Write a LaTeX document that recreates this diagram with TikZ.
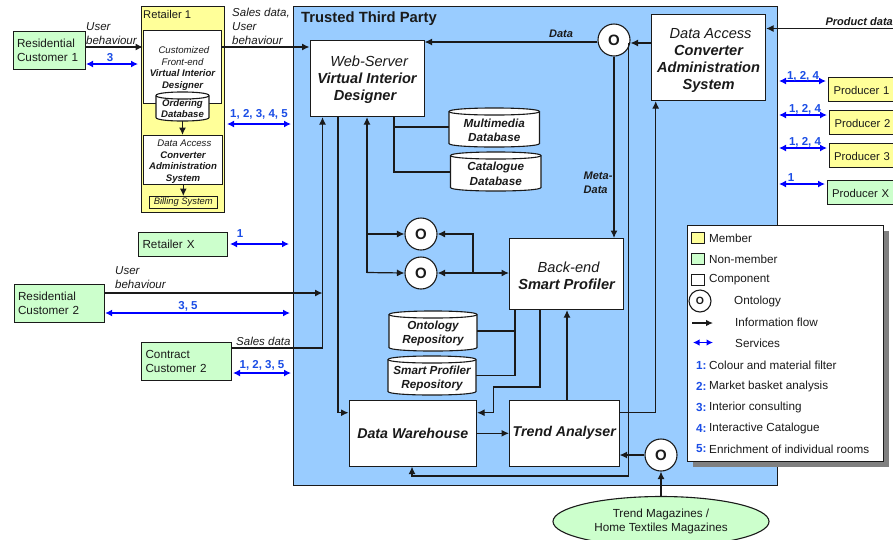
\documentclass[tikz,border=0pt]{standalone}
\usepackage{fontspec}
\setmainfont{Liberation Sans}
\usetikzlibrary{arrows.meta,shapes.geometric,calc}
\definecolor{ttpblue}{HTML}{99CCFF}
\definecolor{memberyellow}{HTML}{FFFF99}
\definecolor{nongreen}{HTML}{CCFFCC}
\definecolor{ink}{HTML}{1A1A1A}
\definecolor{svctext}{HTML}{1A4DE6}
\definecolor{shadowgrey}{HTML}{808080}
\newcommand{\fs}[2]{\fontsize{#1}{#2}\selectfont}
\newcommand{\pad}[1]{\rule{0pt}{#1pt}}
\tikzset{
  x=1pt,y=-1pt,
  every node/.style={inner sep=0pt,text=ink},
  wh/.style 2 args={minimum width=#1pt,minimum height=#2pt},
  comp/.style={draw=ink,line width=1.1pt,fill=white,anchor=north west,align=center},
  member/.style={draw=ink,line width=1.1pt,fill=memberyellow,anchor=north west,align=left},
  nonmember/.style={draw=ink,line width=1.1pt,fill=nongreen,anchor=north west,align=left},
  big/.style={font=\fs{14.6}{17}},
  small/.style={font=\fs{9.6}{11.5}},
  norm/.style={font=\fs{11.7}{14}},
  prod/.style={font=\fs{11.3}{14}},
  lbl/.style={font=\fs{11.5}{14}\itshape,align=left,anchor=west},
  svc/.style={font=\fs{11.5}{14}\bfseries,text=svctext},
  onto/.style={circle,draw=ink,line width=1.1pt,fill=white,minimum size=32pt,font=\fs{15}{17}\bfseries},
  flow/.style={draw=ink,line width=1.2pt,-{Latex[length=7.5pt,width=7pt]}},
  flowboth/.style={draw=ink,line width=1.2pt,{Latex[length=7.5pt,width=7pt]}-{Latex[length=7.5pt,width=7pt]}},
  plain/.style={draw=ink,line width=1.2pt},
  service/.style={draw=blue,line width=1.7pt,{Latex[length=7pt,width=7pt]}-{Latex[length=7pt,width=7pt]}},
  legtxt/.style={font=\fs{11.7}{14},anchor=west},
  legnum/.style={font=\fs{11.7}{14}\bfseries,text=svctext,anchor=west},
  swatch/.style={draw=ink,line width=1.1pt,anchor=north west,wh={13}{11}},
}
% name, x1, y1, x2, y2, text font, y shift of the text, text
\newcommand{\dbcyl}[8]{%
  \draw[draw=ink,line width=1.1pt,fill=white]
    (#2,#3+3.5) -- (#2,#5-3.5)
    .. controls (#2,#5+1.2) and (#4,#5+1.2) .. (#4,#5-3.5)
    -- (#4,#3+3.5)
    .. controls (#4,#3-1.2) and (#2,#3-1.2) .. cycle;
  \draw[draw=ink,line width=1.1pt] (#2,#3+3.5) .. controls (#2,#3+8.2) and (#4,#3+8.2) .. (#4,#3+3.5);
  \path (#2,#3) -- (#4,#5) coordinate[pos=.5] (#1c);
  \node[anchor=center,minimum width=#4pt-#2pt,minimum height=#5pt-#3pt,align=center,text depth=0pt] (#1) at (#1c) {};
  \node[anchor=center,align=center,font=#6] (#1t) at ($(#1c)+(0,#7)$) {#8};
}
\begin{document}
\begin{tikzpicture}
\useasboundingbox (0,0) rectangle (893,539);
\fill[white] (0,0) rectangle (893,539);

% Main areas
\node[draw=ink,line width=1.1pt,fill=ttpblue,anchor=north west,wh={484}{479}] (ttp) at (293,6) {};
\node[font=\fs{14.8}{17}\bfseries,anchor=west] (ttpt) at (301,19) {Trusted Third Party};
\node[draw=ink,line width=1.3pt,fill=memberyellow,anchor=north west,wh={83}{206}] (ret) at (141,6) {};
\node[font=\fs{11.2}{13},anchor=west] (rett) at (143,14.5) {Retailer 1};

% Components in the retailer
\node[comp,wh={78}{73},small] (cust) at (143,30) {\itshape\pad{10} Customized\\[0pt]\itshape Front-end\\\bfseries\itshape Virtual Interior\\\bfseries\itshape Designer};
\dbcyl{order}{156}{92}{209}{121}{\fs{9.6}{11}\bfseries\itshape}{2.5}{Ordering\\Database}
\node[comp,wh={79}{49},small] (dac) at (143,135) {\itshape\pad{10} Data Access\\\bfseries\itshape Converter\\\bfseries\itshape Administration\\\bfseries\itshape System};
\node[member,wh={68.5}{12},align=center,font=\fs{9.4}{11}\itshape] (bill) at (148.5,196) {Billing System};

% Customers and partners
\node[nonmember,wh={72}{38},norm,text width=65pt,inner xsep=3pt] (rc1) at (13,31) {Residential\\Customer 1};
\node[nonmember,wh={89}{24},norm,text width=81pt,inner xsep=4pt] (retx) at (138,232) {Retailer X};
\node[nonmember,wh={90}{38},norm,text width=83pt,inner xsep=3.5pt] (rc2) at (14,284) {Residential\\Customer 2};
\node[nonmember,wh={90}{38},norm,text width=82pt,inner xsep=4pt] (cc2) at (141,342) {Contract\\Customer 2};
\node[member,wh={70}{24},prod,text width=62pt,inner xsep=5pt] (p1) at (828,77) {\pad{10.5}Producer 1};
\node[member,wh={70}{24},prod,text width=62pt,inner xsep=5pt] (p2) at (829,110) {\pad{10.5}Producer 2};
\node[member,wh={70}{24},prod,text width=62pt,inner xsep=5pt] (p3) at (828.5,143) {\pad{10.5}Producer 3};
\node[nonmember,wh={72}{24},prod,text width=64pt,inner xsep=4.5pt] (px) at (827,179.5) {\pad{10.5}Producer X};

% Components of the trusted third party
\node[comp,wh={114}{76},big] (web) at (309.5,40) {\itshape\pad{13.5} Web-Server\\\bfseries\itshape Virtual Interior\\\bfseries\itshape Designer~~};
\node[comp,wh={114}{86},big] (dacm) at (651,14) {\itshape\pad{15} Data Access\\\bfseries\itshape Converter\\\bfseries\itshape Administration\\\bfseries\itshape System};
\node[comp,wh={114}{71},big] (sp) at (509,238) {\itshape\pad{13.5} Back-end\\\bfseries\itshape Smart Profiler};
\node[comp,wh={127.5}{65.5},font=\fs{14.2}{17}] (dw) at (348.5,400) {\bfseries\itshape Data Warehouse};
\node[comp,wh={109.5}{65.5},font=\fs{14.2}{17}] (ta) at (509,400) {\bfseries\itshape Trend Analyser};
\dbcyl{mm}{449}{108}{539.5}{147}{\fs{11.7}{14}\bfseries\itshape}{2.5}{Multimedia\\Database}
\dbcyl{cat}{450.5}{152}{541}{191}{\fs{11.7}{14.5}\bfseries\itshape}{2.5}{Catalogue\\Database}
\dbcyl{ont}{389}{311}{477}{351}{\fs{11.7}{14}\bfseries\itshape}{2}{Ontology\\Repository}
\dbcyl{spr}{388}{356}{476}{395}{\fs{11.7}{14}\bfseries\itshape}{2.5}{Smart Profiler\\Repository}
\node[onto] (o0) at (614,40) {O};
\node[onto] (o1) at (421,234) {O};
\node[onto] (o2) at (421,273) {O};
\node[onto] (o3) at (661,455) {O};
\node[ellipse,draw=ink,line width=1.1pt,fill=nongreen,minimum width=216pt,minimum height=50pt,align=center,norm] (mag) at (661,521.5) {Trend Magazines /\\Home Textiles Magazines};

% Legend
\fill[shadowgrey] (693,231) rectangle (889,467);
\node[draw=ink,line width=1.1pt,fill=white,anchor=north west,wh={196}{236}] (leg) at (687,225) {};
\node[swatch,fill=memberyellow] (s1) at (691,232) {};
\node[legtxt] (s1t) at (709,238) {Member};
\node[swatch,fill=nongreen] (s2) at (691,253) {};
\node[legtxt] (s2t) at (709,259) {Non-member};
\node[swatch,fill=white] (s3) at (691,274) {};
\node[legtxt] (s3t) at (709,280) {Component};
\node[circle,draw=ink,line width=1.1pt,fill=white,minimum size=22pt,font=\fs{10.5}{12}\bfseries] (s4) at (700,301) {O};
\node[legtxt] (s4t) at (734,301) {Ontology};
\coordinate (fa) at (692,323); \coordinate (fb) at (713,323);
\draw[flow,-{Latex[length=7pt,width=6.5pt]}] (fa) -- (fb);
\node[legtxt] (s5t) at (735,322) {Information flow};
\coordinate (sa) at (693,342.5); \coordinate (sb) at (713,342.5);
\draw[service,line width=1.5pt,{Latex[length=6.5pt,width=6.5pt]}-{Latex[length=6.5pt,width=6.5pt]}] (sa) -- (sb);
\node[legtxt] (s6t) at (735,343) {Services};
\node[legnum] (n1) at (696,365) {1:}; \node[legtxt] (n1t) at (709,365) {Colour and material filter};
\node[legnum] (n2) at (696,386) {2:}; \node[legtxt] (n2t) at (709,386) {Market basket analysis};
\node[legnum] (n3) at (696,407) {3:}; \node[legtxt] (n3t) at (709,407) {Interior consulting};
\node[legnum] (n4) at (696,428) {4:}; \node[legtxt] (n4t) at (709,428) {Interactive Catalogue};
\node[legnum] (n5) at (696,449) {5:}; \node[legtxt] (n5t) at (709,449) {Enrichment of individual rooms};

% Information flows: customers and retailer
\draw[flow] (rc1.east |- 0,47) -- (cust.west |- 0,47);
\draw[flow] (cust.east |- 0,47) -- (web.west |- 0,47);
\draw[flow] (order.south) -- (dac.north -| order.south);
\draw[flow] (dac.south -| bill.north) -- (bill.north);
\draw[flow] (rc2.east |- 0,293) -- (322.5,293);
\draw[flow] (cc2.east |- 0,348) -- (322.5,348) -- (322.5,0 |- web.south);

% Information flows: trusted third party
\draw[flow] (338,0 |- web.south) -- (338,412.7) -- (dw.west |- 0,412.7);
\draw[flow] (367,272.5) -- (367,0 |- web.south);
\draw[flow] (367,234) -- (o1.west);
\draw[flow] (367,272.5) -- (o2.west);
\draw[plain] (394,0 |- web.south) -- (394,172) -- (cat.west |- 0,172);
\draw[plain] (394,127) -- (mm.west |- 0,127);
\draw[flow] (473,273.5) -- (473,234) -- (o1.east);
\draw[flowboth] (o2.east) -- (sp.west |- o2.east);
\draw[flow] (o0.west |- 0,42) -- (web.east |- 0,42);
\draw[flow] (o0.south) -- (sp.north -| o0.south);
\draw[flow] (dacm.west |- 0,43) -- (o0.east |- 0,43);
\draw[flow] (628.7,43) -- (628.7,476) -- (412,476) -- (412,0 |- dw.south);
\draw[plain] (515,0 |- sp.south) -- (515,0 |- spr.east) -- (spr.east);
\draw[plain] (515,331) -- (ont.east |- 0,331);
\draw[flow] (540,0 |- sp.south) -- (540,387) -- (493.7,387) -- (493.7,412.7) -- (dw.east |- 0,412.7);
\draw[flow] (ta.north -| 567,0) -- (sp.south -| 567,0);
\draw[flow] (dw.east) -- (ta.west);
\draw[flow] (ta.east |- 0,412.7) -- (655.7,412.7) -- (655.7,0 |- dacm.south);
\draw[flow] (o3.west) -- (ta.east |- o3.west);
\draw[flow] (mag.north -| o3.south) -- (o3.south);
\coordinate (pd) at (893,28.5);
\draw[flow] (pd) -- (dacm.east |- pd);

% Services
\coordinate (sv1a) at (86,64); \coordinate (sv1b) at (138,64);
\draw[service] (sv1a) -- (sv1b);
\coordinate (sv2a) at (227,124); \coordinate (sv2b) at (291,124);
\draw[service] (sv2a) -- (sv2b);
\coordinate (sv3a) at (230,244); \coordinate (sv3b) at (289,244);
\draw[service] (sv3a) -- (sv3b);
\coordinate (sv4b) at (290,313);
\draw[service] (rc2.east |- sv4b) -- (sv4b);
\coordinate (sv5a) at (233,373); \coordinate (sv5b) at (291,373);
\draw[service] (sv5a) -- (sv5b);
\coordinate (sv6a) at (779,81); \coordinate (sv6b) at (826,81);
\draw[service] (sv6a) -- (sv6b);
\coordinate (sv7a) at (779,115); \coordinate (sv7b) at (827,115);
\draw[service] (sv7a) -- (sv7b);
\coordinate (sv8a) at (779,148); \coordinate (sv8b) at (827,148);
\draw[service] (sv8a) -- (sv8b);
\coordinate (sv9a) at (779,184); \coordinate (sv9b) at (825,184);
\draw[service] (sv9a) -- (sv9b);

% Labels
\node[lbl] (l1) at (86,34) {User\\behaviour};
\node[lbl] (l2) at (232,26) {Sales data,\\User\\behaviour};
\node[lbl] (l3) at (115,278) {User\\behaviour};
\node[lbl] (l4) at (236,341) {Sales data};
\node[font=\fs{11}{14}\bfseries\itshape] (l5) at (561,34) {Data};
\node[font=\fs{11}{14}\bfseries\itshape,align=left,anchor=west] (l6) at (583.5,183) {Meta-\\Data};
\node[font=\fs{11}{14}\bfseries\itshape,anchor=east] (l7) at (893,22) {Product data};
\node[svc] (v1) at (110,58) {3};
\node[svc] (v2) at (259,114.5) {1, 2, 3, 4, 5};
\node[svc] (v3) at (240,234) {1};
\node[svc] (v4) at (188,306) {3, 5};
\node[svc] (v5) at (262,365) {1, 2, 3, 5};
\node[svc] (v6) at (803,76) {1, 2, 4};
\node[svc] (v7) at (805,109) {1, 2, 4};
\node[svc] (v8) at (805,142) {1, 2, 4};
\node[svc] (v9) at (791,178) {1};
\end{tikzpicture}
\end{document}
